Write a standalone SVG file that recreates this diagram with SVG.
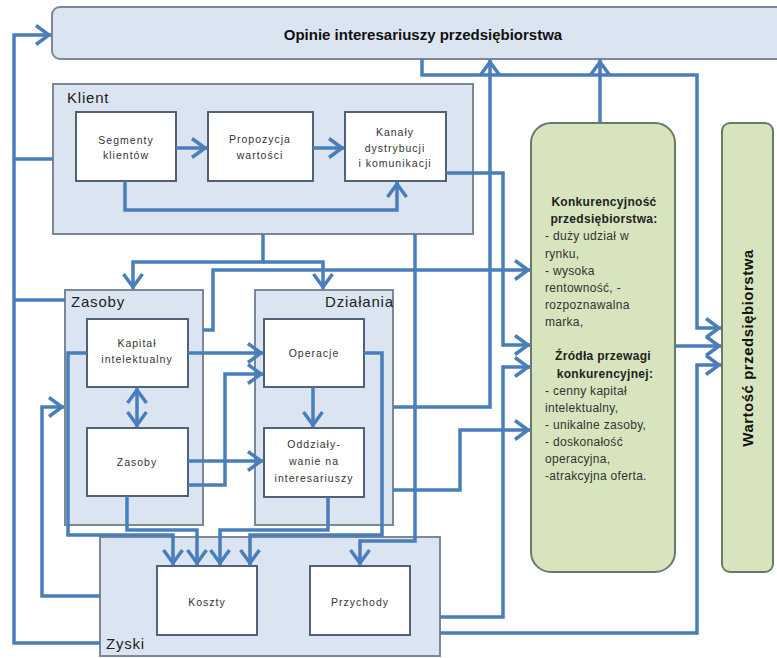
<svg xmlns="http://www.w3.org/2000/svg" width="777" height="658" viewBox="0 0 777 658">
<defs>
<style>
.grp{fill:#dbe5f1;stroke:#7c8898;stroke-width:2}
.box{fill:#ffffff;stroke:#52617a;stroke-width:2}
.grn{fill:#d7e4bd;stroke:#6a7a6a;stroke-width:2}
.c{fill:none;stroke:#4a7ebb;stroke-width:3.5}
.a{marker-end:url(#ah)}
.b2{marker-start:url(#ah);marker-end:url(#ah)}
text{font-family:"Liberation Sans",Arial,sans-serif;fill:#333}
.s{font-size:10.5px;letter-spacing:1px;text-anchor:middle}
.l{font-size:15px;letter-spacing:0.8px;fill:#222}
.g{font-size:12px;letter-spacing:0.3px}
.gb{font-size:12px;letter-spacing:0.3px;font-weight:bold;text-anchor:middle;fill:#222}
.t{font-size:15px;font-weight:bold;fill:#111;text-anchor:middle}
</style>
<marker id="ah" markerUnits="userSpaceOnUse" viewBox="-18 -12 20 24" refX="0" refY="0" markerWidth="20" markerHeight="24" orient="auto-start-reverse">
<path d="M-15,-9.5 L-2,0 L-15,9.5" fill="none" stroke="#4a7ebb" stroke-width="3.5"/>
</marker>
</defs>
<rect width="777" height="658" fill="#ffffff"/>

<g id="opinie">
<rect class="grp" x="52" y="7" width="745" height="52" rx="8"/>
<text class="t" x="423" y="40">Opinie interesariuszy przedsiębiorstwa</text>
</g>

<g id="klient">
<rect class="grp" x="53" y="84" width="420" height="150"/>
<text class="l" x="67" y="103">Klient</text>
</g>
<g id="segmenty">
<rect class="box" x="76" y="112" width="100" height="69"/>
<text class="s" x="126" y="144">Segmenty</text>
<text class="s" x="126" y="159">klientów</text>
</g>
<g id="propozycja">
<rect class="box" x="208" y="112" width="105" height="69"/>
<text class="s" x="260" y="143">Propozycja</text>
<text class="s" x="260" y="159">wartości</text>
</g>
<g id="kanaly">
<rect class="box" x="345" y="112" width="101" height="69"/>
<text class="s" x="395" y="136">Kanały</text>
<text class="s" x="395" y="152">dystrybucji</text>
<text class="s" x="395" y="167">i komunikacji</text>
</g>

<g id="zasoby-grupa">
<rect class="grp" x="65" y="290" width="138" height="235"/>
<text class="l" x="71" y="307">Zasoby</text>
</g>
<g id="kapital">
<rect class="box" x="87" y="319" width="101" height="68"/>
<text class="s" x="137" y="347">Kapitał</text>
<text class="s" x="137" y="363">intelektualny</text>
</g>
<g id="zasoby">
<rect class="box" x="87" y="428" width="101" height="68"/>
<text class="s" x="137" y="466">Zasoby</text>
</g>

<g id="dzialania-grupa">
<rect class="grp" x="255" y="290" width="138" height="235"/>
<text class="l" x="325" y="307">Działania</text>
</g>
<g id="operacje">
<rect class="box" x="264" y="319" width="100" height="68"/>
<text class="s" x="314" y="357">Operacje</text>
</g>
<g id="oddzialywanie">
<rect class="box" x="264" y="428" width="100" height="69"/>
<text class="s" x="314" y="448">Oddziały-</text>
<text class="s" x="314" y="465">wanie na</text>
<text class="s" x="314" y="482">interesariuszy</text>
</g>

<g id="zyski">
<rect class="grp" x="100" y="537" width="340" height="119"/>
<text class="l" x="106" y="649">Zyski</text>
</g>
<g id="koszty">
<rect class="box" x="157" y="566" width="100" height="69"/>
<text class="s" x="207" y="606">Koszty</text>
</g>
<g id="przychody">
<rect class="box" x="310" y="566" width="100" height="69"/>
<text class="s" x="360" y="606">Przychody</text>
</g>

<g id="konkurencyjnosc">
<rect class="grn" x="531" y="123" width="144" height="449" rx="20"/>
<text class="gb" x="604" y="206">Konkurencyjność</text>
<text class="gb" x="604" y="223">przedsiębiorstwa:</text>
<text class="g" x="545" y="240">- duży udział w</text>
<text class="g" x="545" y="257.5">rynku,</text>
<text class="g" x="545" y="274.5">- wysoka</text>
<text class="g" x="545" y="291.5">rentowność, -</text>
<text class="g" x="545" y="309">rozpoznawalna</text>
<text class="g" x="545" y="326">marka,</text>
<text class="gb" x="603" y="360">Źródła przewagi</text>
<text class="gb" x="605" y="377.5">konkurencyjnej:</text>
<text class="g" x="545" y="394.5">- cenny kapitał</text>
<text class="g" x="545" y="411.5">intelektualny,</text>
<text class="g" x="545" y="429">- unikalne zasoby,</text>
<text class="g" x="545" y="446">- doskonałość</text>
<text class="g" x="545" y="463">operacyjna,</text>
<text class="g" x="545" y="480">-atrakcyjna oferta.</text>
</g>

<g id="wartosc">
<rect class="grn" x="722" y="123" width="51" height="449" rx="8"/>
<text class="t" transform="translate(753,348) rotate(-90)" x="0" y="0" style="letter-spacing:0.5px">Wartość przedsiębiorstwa</text>
</g>

<g id="connectors">
<path class="c a" d="M100,643 H14 V35 H51"/>
<path class="c" d="M53,159 H14"/>
<path class="c" d="M65,300 H14"/>
<path class="c a" d="M100,596 H42 V407 H64"/>
<path class="c a" d="M176,148 H207"/>
<path class="c a" d="M313,148 H344"/>
<path class="c a" d="M125,181 V210 H397 V182"/>
<path class="c a" d="M263,234 V262 H133 V289"/>
<path class="c a" d="M263,262 H323 V289"/>
<path class="c a" d="M203,330 H213 V270 H530"/>
<path class="c a" d="M446,173 H503 V345 H530"/>
<path class="c a" d="M188,353 H263"/>
<path class="c a" d="M188,461 H263"/>
<path class="c a" d="M188,485 H225 V374 H263"/>
<path class="c a" d="M313,387 V427"/>
<path class="c b2" d="M137,388 V427"/>
<path class="c a" d="M87,353 H68 V535 H173 V565"/>
<path class="c a" d="M127,496 V530 H197 V565"/>
<path class="c a" d="M328,497 V530 H220 V565"/>
<path class="c a" d="M364,353 H382 V535 H250 V565"/>
<path class="c a" d="M415,234 V541 H360 V565"/>
<path class="c a" d="M393,407 H490 V60"/>
<path class="c a" d="M393,490 H460 V430 H530"/>
<path class="c a" d="M440,617 H503 V367 H530"/>
<path class="c a" d="M440,633 H697 V365 H721"/>
<path class="c a" d="M600,123 V60"/>
<path class="c a" d="M422,59 V75 H697 V328 H721"/>
<path class="c a" d="M675,346 H721"/>
</g>
</svg>
